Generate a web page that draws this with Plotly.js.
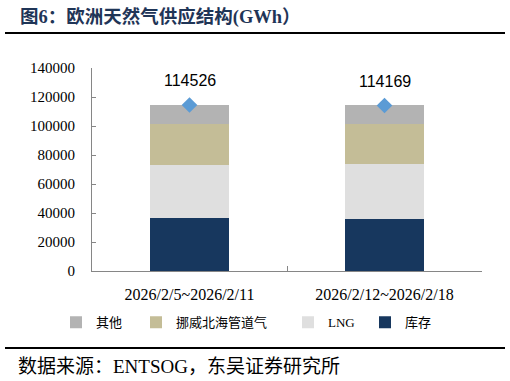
<!DOCTYPE html>
<html>
<head>
<meta charset="utf-8">
<script src="https://cdn.plot.ly/plotly-3.0.1.min.js"></script>
<style>html,body{margin:0;padding:0;background:#fff;}#chart{width:510px;height:381px;}</style>
</head>
<body>
<div id="chart"></div>
<script>
// Data
const categories = ["2026/2/5~2026/2/11", "2026/2/12~2026/2/18"];
const storage = [36880, 36190];        // 库存
const lng = [36120, 37300];            // LNG
const norway = [28530, 27830];         // 挪威北海管道气
const totals = [114526, 114169];       // 合计
const others = totals.map((t, i) => t - storage[i] - lng[i] - norway[i]); // 其他 (remainder)
const seriesNames = ["库存", "LNG", "挪威北海管道气", "其他"];
const yTicks = [0, 20000, 40000, 60000, 80000, 100000, 120000, 140000];

const colors = ["#17375E", "#DFDFDF", "#C4BD97", "#B3B3B3"];
const seriesValues = [storage, lng, norway, others];

const W = 510, H = 381;
const L = 92, R = 28, T = 68, B = 110.3;
const pw = W - L - R, ph = H - T - B;
const px = x => (x - L) / pw;
const py = y => (H - B - y) / ph;

const serif = "'Times New Roman', 'Liberation Serif', 'Noto Sans CJK SC', serif";

// legend text start positions (px) for each series
const legendTextX = [405, 328, 176, 96];
const legendNames = ["legend", "legend2", "legend3", "legend4"];

const traces = seriesValues.map((vals, i) => ({
  type: "bar",
  name: seriesNames[i],
  x: categories,
  y: vals,
  width: 0.407,
  marker: {color: colors[i]},
  legend: legendNames[i],
  hoverinfo: "skip"
}));

traces.push({
  type: "scatter",
  mode: "markers",
  x: categories,
  y: totals,
  marker: {symbol: "diamond", size: 12, color: "#5B9BD5"},
  showlegend: false,
  hoverinfo: "skip"
});

const legendCommon = {
  orientation: "h",
  xanchor: "left",
  yanchor: "middle",
  y: py(322),
  font: {family: serif, size: 13, color: "#000"},
  bgcolor: "rgba(0,0,0,0)",
  itemclick: false
};

const layout = {
  width: W, height: H,
  margin: {l: L, r: R, t: T, b: B},
  paper_bgcolor: "#fff",
  plot_bgcolor: "#fff",
  barmode: "stack",
  showlegend: true,
  xaxis: {
    type: "category",
    range: [-0.5, 1.5],
    showline: true, linecolor: "#868686", linewidth: 1,
    ticks: "inside", ticklen: 5, tickcolor: "#868686",
    tickson: "boundaries",
    showgrid: false, zeroline: false,
    tickfont: {family: serif, size: 16, color: "#000"},
    ticklabelstandoff: 9
  },
  yaxis: {
    range: [0, 140000],
    tickvals: yTicks,
    ticktext: yTicks.map(String),
    showline: true, linecolor: "#868686", linewidth: 1,
    ticks: "inside", ticklen: 4, tickcolor: "#868686",
    showgrid: false, zeroline: false,
    tickfont: {family: serif, size: 15, color: "#000"},
    ticklabelstandoff: 13
  },
  annotations: [
    {
      xref: "paper", yref: "paper", x: px(18), y: py(17), xanchor: "left", yanchor: "middle",
      text: "<b>图6：欧洲天然气供应结构(GWh）</b>", showarrow: false,
      font: {family: serif, size: 18.5, color: "#1F3557"}
    },
    {
      xref: "paper", yref: "paper", x: px(16), y: py(366), xanchor: "left", yanchor: "middle",
      text: "数据来源：ENTSOG，东吴证券研究所", showarrow: false,
      font: {family: serif, size: 19, color: "#000"}
    }
  ].concat(categories.map((c, i) => ({
    x: c, y: totals[i], xref: "x", yref: "y",
    text: String(totals[i]), showarrow: false,
    yshift: 24, yanchor: "middle",
    font: {family: "Arial, 'Liberation Sans', sans-serif", size: 16, color: "#000"}
  }))),
  shapes: [
    {type: "line", xref: "paper", yref: "paper", x0: px(5), x1: px(505), y0: py(33), y1: py(33), line: {color: "#000", width: 2}},
    {type: "line", xref: "paper", yref: "paper", x0: px(5), x1: px(505), y0: py(347.5), y1: py(347.5), line: {color: "#000", width: 2}}
  ]
};

legendNames.forEach((ln, i) => {
  layout[ln] = Object.assign({}, legendCommon, {x: px(legendTextX[i] - 40)});
});

Plotly.newPlot("chart", traces, layout, {displayModeBar: false, staticPlot: true});
</script>
</body>
</html>
